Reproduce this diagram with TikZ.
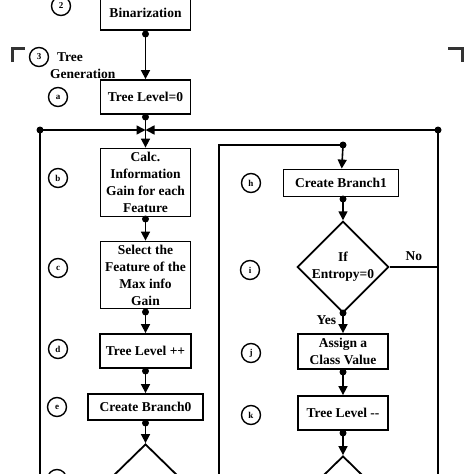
\documentclass[tikz,border=0pt]{standalone}
\usepackage{fontspec}
\setmainfont{Liberation Serif}
\usetikzlibrary{arrows.meta,shapes.geometric}

\tikzset{
  box/.style={draw,line width=1.8pt,inner sep=0pt,align=center,
    font=\fontsize{13.5}{17}\selectfont\bfseries},
  decision/.style={draw,diamond,line width=1.8pt,inner sep=0pt,align=center,
    minimum width=90pt,minimum height=88pt,font=\fontsize{13.5}{17}\selectfont\bfseries},
  steplabel/.style={draw,circle,line width=1.4pt,minimum size=19pt,inner sep=0pt,
    font=\fontsize{9}{9}\selectfont\bfseries},
  flow/.style={line width=1.6pt,-{Triangle[length=9pt,width=9pt]}},
  wire/.style={line width=1.6pt},
  dot/.style={circle,fill,inner sep=0pt,minimum size=7pt},
  corner/.style={line width=3pt,draw=black!80},
  note/.style={font=\fontsize{13.5}{17}\selectfont\bfseries,inner sep=0pt}
}

\begin{document}
\begin{tikzpicture}[x=1pt,y=-1pt]
  \useasboundingbox (0,0) rectangle (474,474);
  \clip (0,0) rectangle (474,474);

  % left column
  \node[box,minimum width=90pt,minimum height=34pt] (bin) at (145.5,13) {Binarization};
  \node[box,minimum width=90pt,minimum height=34pt] (tl0) at (145.5,97) {Tree Level=0};
  \node[box,minimum width=90pt,minimum height=68pt] (gain) at (145.5,182.5) {Calc.\\Information\\Gain for each\\Feature};
  \node[box,minimum width=90pt,minimum height=67pt] (sel) at (145.5,275) {Select the\\Feature of the\\Max info\\Gain};
  \node[box,minimum width=91pt,minimum height=34pt] (tlinc) at (145.5,351) {Tree Level ++};
  \node[box,minimum width=115pt,minimum height=26pt] (br0) at (145.5,407) {Create Branch0};
  \node[decision] (dec0) at (145.5,488) {};

  % right column
  \node[box,minimum width=115pt,minimum height=27pt] (br1) at (341,183) {Create Branch1};
  \node[decision] (ent) at (343,267) {If\\Entropy=0};
  \node[box,minimum width=90pt,minimum height=35pt] (cls) at (343,351.5) {Assign a\\Class Value};
  \node[box,minimum width=90pt,minimum height=34pt] (tldec) at (343,413) {Tree Level -{}-};
  \node[decision] (dec1) at (343,500) {};

  % step labels
  \node[steplabel] (s2) at (61,6) {2};
  \node[steplabel] (s3) at (39,57) {3};
  \node[steplabel] (sa) at (58,97) {a};
  \node[steplabel] (sb) at (58,178) {b};
  \node[steplabel] (sc) at (58,268) {c};
  \node[steplabel] (sd) at (58,349) {d};
  \node[steplabel] (se) at (57,407) {e};
  \node[steplabel] (sf) at (57,479) {f};
  \node[steplabel] (sh) at (251,183) {h};
  \node[steplabel] (si) at (250,270) {i};
  \node[steplabel] (sj) at (251,353) {j};
  \node[steplabel] (sk) at (251,415) {k};

  \node[note,anchor=west] (tree) at (57,57) {Tree};
  \node[note,anchor=west] (gen) at (50,74) {Generation};
  \draw[corner] (12,62) -- (12,48) -- (25,48);
  \draw[corner] (448,48) -- (462,48) -- (462,62);

  % dots
  \node[dot] (p1) at (145.5,34) {};
  \node[dot] (p2) at (145.5,117) {};
  \node[dot] (p3) at (145.5,219) {};
  \node[dot] (p4) at (145.5,312) {};
  \node[dot] (p5) at (145.5,371) {};
  \node[dot] (p6) at (145.5,423) {};
  \node[dot] (loopl) at (40,130) {};
  \node[dot] (loopr) at (438,130) {};
  \node[dot] (q1) at (343,145) {};
  \node[dot] (q2) at (343,199) {};
  \node[dot] (q3) at (343,313) {};
  \node[dot] (q4) at (343,372) {};
  \node[dot] (q5) at (343,433) {};
  \coordinate (join) at (145.5,130);
  \coordinate (inner) at (219,145);

  % connectors
  \draw[flow] (p1.center) -- (tl0);
  \draw[flow] (p2.center) -- (gain);
  \draw[flow] (loopl.center) -- (join);
  \draw[flow] (loopr.center) -- (join);
  \draw[flow] (p3.center) -- (sel);
  \draw[flow] (p4.center) -- (tlinc);
  \draw[flow] (p5.center) -- (br0);
  \draw[flow] (p6.center) -- (dec0);
  \draw[wire] (loopl.center) -- (40,474);
  \draw[wire] (loopr.center) -- (438,474);
  \draw[wire] (219,474) -- (inner) -- (q1.center);
  \draw[flow] (q1.center) -- (br1);
  \draw[flow] (q2.center) -- (ent);
  \draw[wire] (ent.east) -- node[note,above=6pt] {No} (ent.east -| loopr);
  \draw[flow] (q3.center) -- node[note,left=6pt,pos=0.35] {Yes} (cls);
  \draw[flow] (q4.center) -- (tldec);
  \draw[flow] (q5.center) -- (dec1);
\end{tikzpicture}
\end{document}
